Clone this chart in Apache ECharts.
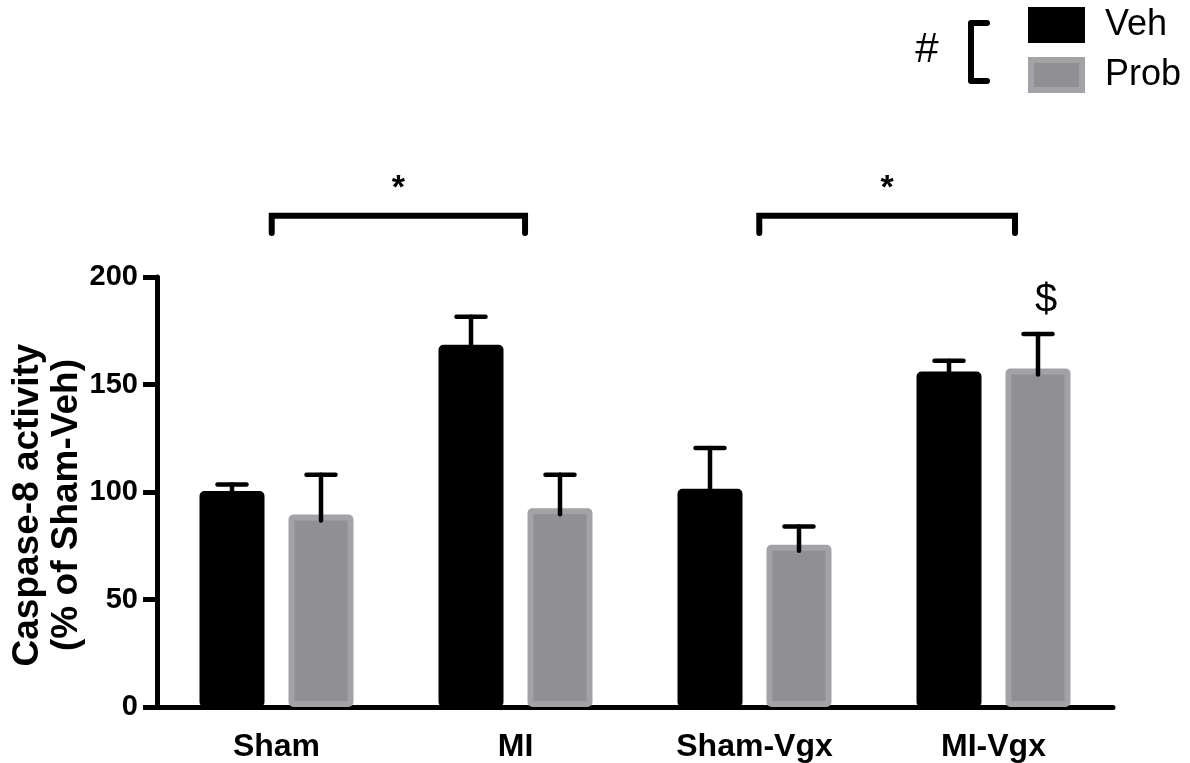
<!DOCTYPE html>
<html>
<head>
<meta charset="utf-8">
<script src="https://cdn.jsdelivr.net/npm/echarts@6/dist/echarts.min.js"></script>
<style>
  html, body { margin: 0; padding: 0; background: #fff; }
  #chart { width: 1190px; height: 763px; }
</style>
</head>
<body>
<div id="chart"></div>
<script>
// Caspase-8 activity, % of Sham-Veh (mean + SEM)
const categories = ['Sham', 'MI', 'Sham-Vgx', 'MI-Vgx'];
const vehMean = [100.5, 168.5, 101.5, 156];
const vehErr = [3, 13, 19, 5];
const probMean = [89.5, 92.5, 75.5, 157.5];
const probErr = [18.5, 15.5, 8.5, 16];
const probNotes = ['', '', '', '$'];
const yTicks = [0, 50, 100, 150, 200];
// significance brackets: ends in category units, heights in axis units
const brackets = [
  { from: -0.02, to: 1.04, label: '*' },
  { from: 2.02, to: 3.09, label: '*' }
];
const BRACKET_TOP = 228.5, BRACKET_LEG = 220.5, STAR_Y = 241;

const FONT = '"Liberation Sans", Arial, Helvetica, sans-serif';
const BAR_W = 65, BAR_GAP = 24, BORDER = 6;
const HALF = (BAR_W + BAR_GAP) / 2;
const VEH_COLOR = '#000000';
const PROB_FILL = '#909094', PROB_EDGE = '#a3a3a7';

const chart = echarts.init(document.getElementById('chart'), null, { renderer: 'canvas' });

function errorSeries(means, errs, offset, notes) {
  return {
    type: 'custom',
    silent: true,
    z: 5,
    data: means.map((m, i) => [i, m, errs[i]]),
    renderItem(params, api) {
      const i = api.value(0), m = api.value(1), e = api.value(2);
      const base = api.coord([i, m]);
      const top = api.coord([i, m + e]);
      const x = base[0] + offset;
      const st = { stroke: '#000', lineWidth: 4.5, lineCap: 'round' };
      const children = [
        { type: 'line', shape: { x1: x, y1: base[1] + 6, x2: x, y2: top[1] }, style: st },
        { type: 'line', shape: { x1: x - 14.5, y1: top[1], x2: x + 14.5, y2: top[1] }, style: st }
      ];
      const note = notes ? notes[params.dataIndex] : '';
      if (note) {
        children.push({
          type: 'text', x: x + 8, y: top[1] - 33,
          style: { text: note, font: '40px ' + FONT, fill: '#000', align: 'center', verticalAlign: 'middle' }
        });
      }
      return { type: 'group', children };
    }
  };
}

const option = {
  animation: false,
  backgroundColor: '#fff',
  grid: { left: 157, right: 77, top: 277, bottom: 56, containLabel: false },
  legend: {
    orient: 'vertical',
    left: 1028, top: 5, padding: 0,
    itemWidth: 51, itemHeight: 30, itemGap: 10,
    selectedMode: false,
    icon: 'rect',
    textStyle: { fontSize: 36, fontFamily: FONT, color: '#000', padding: [10, 0, 0, 18], lineHeight: 30 },
    data: [
      { name: 'Veh', itemStyle: { color: VEH_COLOR, borderColor: VEH_COLOR, borderWidth: BORDER } },
      { name: 'Prob', itemStyle: { color: PROB_FILL, borderColor: PROB_EDGE, borderWidth: BORDER } }
    ]
  },
  xAxis: {
    type: 'category',
    data: categories,
    axisLine: { lineStyle: { color: '#000', width: 5 } },
    axisTick: { alignWithLabel: true, length: 13, lineStyle: { color: '#000', width: 5 } },
    axisLabel: { fontSize: 32, fontWeight: 'bold', fontFamily: FONT, color: '#000', margin: 24 },
    splitLine: { show: false }
  },
  yAxis: {
    type: 'value',
    min: yTicks[0], max: yTicks[yTicks.length - 1], interval: yTicks[1] - yTicks[0],
    axisLine: { show: true, lineStyle: { color: '#000', width: 5 } },
    axisTick: { show: true, length: 14, lineStyle: { color: '#000', width: 5 } },
    axisLabel: { fontSize: 29, fontWeight: 'bold', fontFamily: FONT, color: '#000', margin: 19 },
    splitLine: { show: false }
  },
  series: [
    {
      name: 'Veh', type: 'bar', data: vehMean,
      barWidth: BAR_W, barGap: (BAR_GAP / BAR_W * 100).toFixed(1) + '%',
      itemStyle: { color: VEH_COLOR, borderColor: VEH_COLOR, borderWidth: BORDER, borderRadius: 2 }
    },
    {
      name: 'Prob', type: 'bar', data: probMean,
      barWidth: BAR_W,
      itemStyle: { color: PROB_FILL, borderColor: PROB_EDGE, borderWidth: BORDER, borderRadius: 2 }
    },
    errorSeries(vehMean, vehErr, -HALF, null),
    errorSeries(probMean, probErr, HALF, probNotes)
  ]
};

chart.setOption(option);

// annotations placed through the axes' own conversions
const x0 = chart.convertToPixel({ xAxisIndex: 0 }, 0);
const step = chart.convertToPixel({ xAxisIndex: 0 }, 1) - x0;
const catX = u => x0 + u * step;
const yPx = v => chart.convertToPixel({ yAxisIndex: 0 }, v);

const graphics = [
  {
    type: 'text', x: 47, y: 505, rotation: Math.PI / 2,
    style: {
      text: 'Caspase-8 activity\n(% of Sham-Veh)',
      font: 'bold 37px ' + FONT, fill: '#000',
      align: 'center', verticalAlign: 'middle', lineHeight: 39
    }
  },
  {
    type: 'text', x: 927, y: 50,
    style: { text: '#', font: '42px ' + FONT, fill: '#000', align: 'center', verticalAlign: 'middle' }
  },
  {
    type: 'polyline',
    shape: { points: [[987, 23], [971, 23], [971, 81], [987, 81]] },
    style: { stroke: '#000', lineWidth: 6, fill: null, lineJoin: 'round', lineCap: 'round' }
  }
];

brackets.forEach(b => {
  const xl = catX(b.from), xr = catX(b.to);
  const yt = yPx(BRACKET_TOP), yl = yPx(BRACKET_LEG);
  graphics.push({
    type: 'polyline',
    shape: { points: [[xl, yl], [xl, yt], [xr, yt], [xr, yl]] },
    style: { stroke: '#000', lineWidth: 6, fill: null, lineJoin: 'miter', lineCap: 'round' }
  });
  graphics.push({
    type: 'text', x: (xl + xr) / 2, y: yPx(STAR_Y),
    style: { text: b.label, font: 'bold 34px ' + FONT, fill: '#000', align: 'center', verticalAlign: 'middle' }
  });
});

chart.setOption({ graphic: graphics });
</script>
</body>
</html>
